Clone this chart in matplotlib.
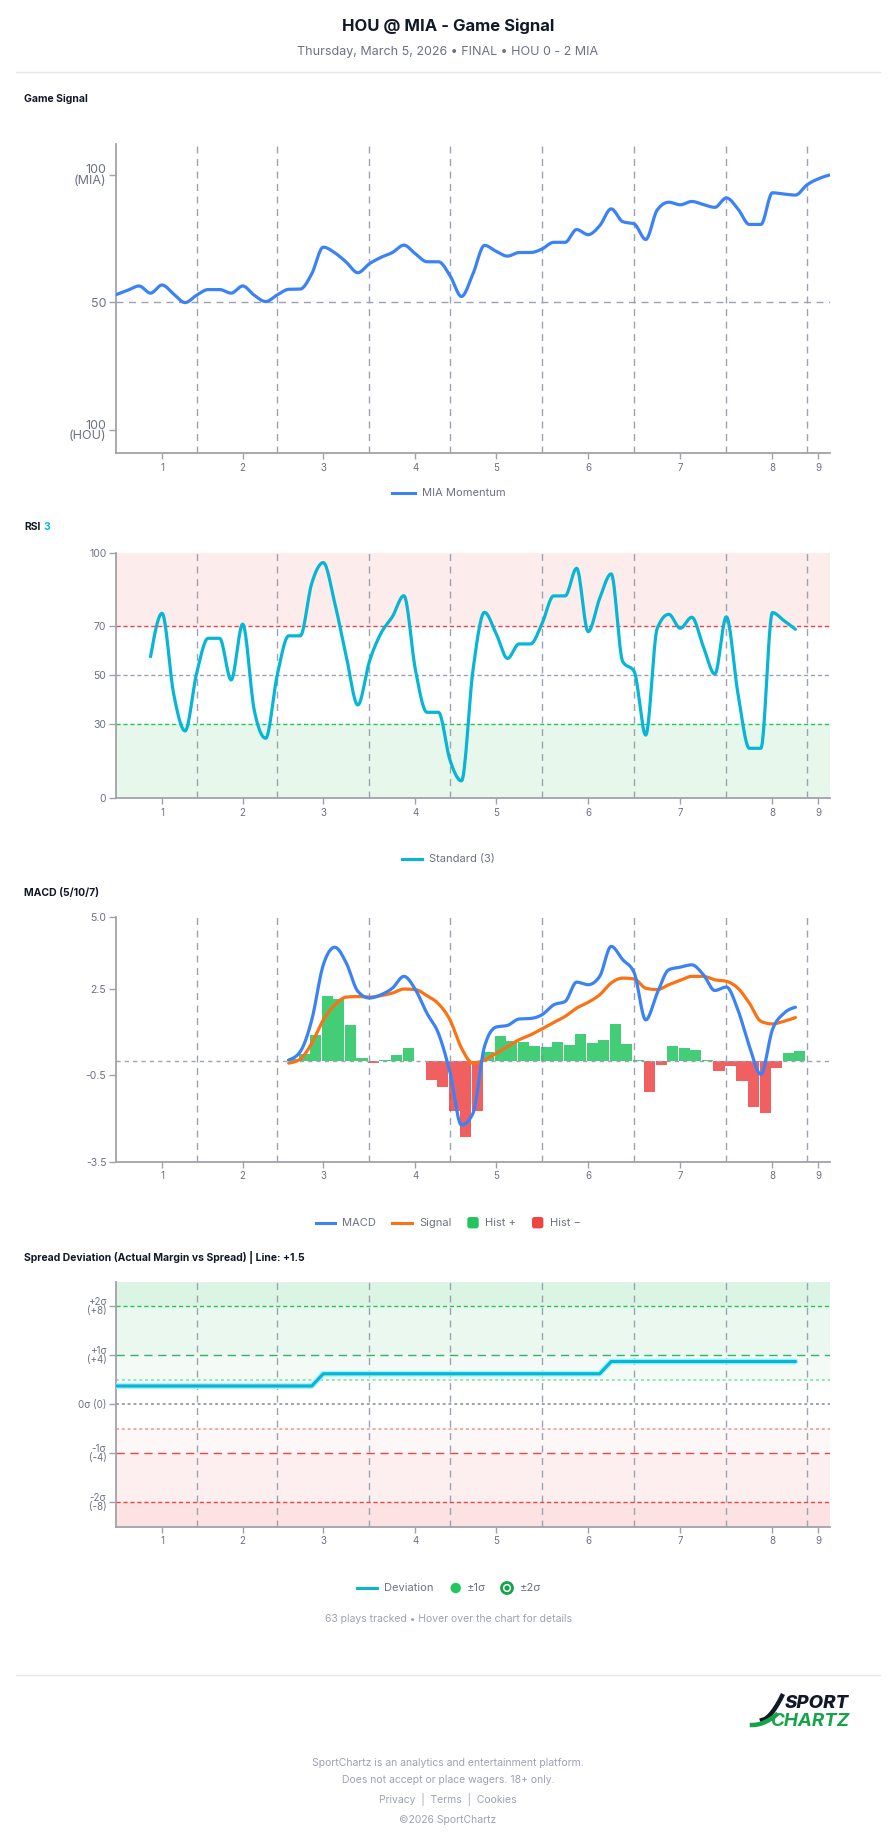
import numpy as np
import matplotlib
matplotlib.use('Agg')
import matplotlib.pyplot as plt
from matplotlib.lines import Line2D
from matplotlib.patches import FancyBboxPatch, Circle
from matplotlib.transforms import IdentityTransform

plt.rcParams['font.family'] = ['Inter', 'DejaVu Sans']

W, H = 896, 1845

# x axis = play index (63 plays), innings marked by ticks / dashed breaks
inning_ticks = [4, 11, 18, 26, 33, 41, 49, 57, 61]
inning_labels = ['1', '2', '3', '4', '5', '6', '7', '8', '9']
inning_breaks = [7, 14, 22, 29, 37, 45, 53, 60]

momentum = [53.0, 54.7, 56.4, 53.6, 56.8, 53.3, 49.9, 52.8, 55.0, 55.0,
            53.6, 56.4, 52.8, 50.3, 52.9, 55.1, 55.2, 61.2, 71.6, 69.4,
            65.7, 61.6, 65.1, 67.6, 69.5, 72.4, 69.0, 65.9, 65.9, 60.5,
            52.3, 61.2, 72.3, 70.0, 68.1, 69.5, 69.5, 70.9, 73.5, 73.5,
            78.5, 76.5, 80.0, 86.6, 81.6, 80.7, 74.6, 86.2, 89.2, 88.2,
            89.5, 88.3, 87.2, 90.9, 86.6, 80.5, 80.5, 92.9, 92.4, 92.0,
            96.0, 98.4, 99.9]

rsi_start = 3
rsi = [57.6, 75.3, 42.6, 27.3, 50.8, 65.1, 65.1, 48.1, 70.9, 35.9,
       24.3, 50.1, 66.1, 66.1, 87.6, 96.0, 79.4, 57.6, 37.9, 55.6,
       67.1, 73.9, 82.5, 52.2, 34.9, 34.9, 15.4, 6.9, 52.2, 75.7,
       67.1, 56.9, 62.8, 62.8, 71.2, 82.4, 82.4, 93.7, 67.8, 81.4,
       91.4, 55.6, 51.5, 25.6, 69.2, 74.9, 69.2, 73.7, 61.7, 50.5,
       73.9, 42.7, 20.2, 20.2, 75.6, 72.3, 68.8]

macd_start = 15
macd = [0.03, 0.32, 1.42, 3.33, 3.94, 3.39, 2.41, 2.18, 2.29, 2.52,
        2.93, 2.47, 1.65, 0.95, -0.40, -2.23, -1.82, 0.50, 1.17, 1.23,
        1.45, 1.47, 1.60, 1.94, 2.06, 2.73, 2.64, 2.93, 3.97, 3.51,
        3.05, 1.42, 2.35, 3.16, 3.25, 3.33, 2.99, 2.44, 2.56, 1.77,
        0.50, -0.47, 1.08, 1.65, 1.86]
signal = [-0.08, 0.06, 0.61, 1.42, 1.94, 2.21, 2.23, 2.21, 2.26, 2.35,
          2.49, 2.47, 2.26, 1.98, 1.42, 0.44, -0.08, 0.03, 0.26, 0.50,
          0.73, 0.90, 1.11, 1.33, 1.54, 1.83, 2.03, 2.29, 2.70, 2.87,
          2.84, 2.52, 2.47, 2.64, 2.79, 2.93, 2.93, 2.81, 2.76, 2.52,
          2.00, 1.37, 1.28, 1.37, 1.50]
hist = [0.07, 0.23, 0.89, 2.25, 2.15, 1.26, 0.11, -0.06, 0.03, 0.21,
        0.46, -0.01, -0.65, -0.92, -1.74, -2.66, -1.73, 0.31, 0.87, 0.69,
        0.67, 0.52, 0.47, 0.64, 0.54, 0.93, 0.61, 0.72, 1.27, 0.59,
        0.02, -1.08, -0.15, 0.50, 0.46, 0.39, 0.02, -0.36, -0.18, -0.69,
        -1.60, -1.81, -0.26, 0.28, 0.35]

deviation = [1.5, 1.5, 1.5, 1.5, 1.5, 1.5, 1.5, 1.5, 1.5, 1.5,
             1.5, 1.5, 1.5, 1.5, 1.5, 1.5, 1.5, 1.5, 2.5, 2.5,
             2.5, 2.5, 2.5, 2.5, 2.5, 2.5, 2.5, 2.5, 2.5, 2.5,
             2.5, 2.5, 2.5, 2.5, 2.5, 2.5, 2.5, 2.5, 2.5, 2.5,
             2.5, 2.5, 2.5, 3.5, 3.5, 3.5, 3.5, 3.5, 3.5, 3.5,
             3.5, 3.5, 3.5, 3.5, 3.5, 3.5, 3.5, 3.5, 3.5, 3.5]

BLUE = '#3b82f6'
CYAN = '#06b6d4'
ORANGE = '#f97316'
GREEN = '#22c55e'
RED = '#ef4444'
GRID = '#9ca3af'
AXIS = '#a1a1aa'
TXT = '#6b7280'


def smooth(x, y, n=16):
    """Monotone cubic (d3 monotoneX style) for drawing."""
    x = np.asarray(x, float)
    y = np.asarray(y, float)
    h = np.diff(x)
    s = np.diff(y) / h
    m = np.zeros_like(y)
    for k in range(1, len(y) - 1):
        p = (s[k - 1] * h[k] + s[k] * h[k - 1]) / (h[k - 1] + h[k])
        m[k] = (np.sign(s[k - 1]) + np.sign(s[k])) * min(abs(s[k - 1]), abs(s[k]), 0.5 * abs(p))
    m[0] = (3 * s[0] - m[1]) / 2
    m[-1] = (3 * s[-1] - m[-2]) / 2
    xs, ys = [], []
    for k in range(len(h)):
        t = np.linspace(0, 1, n, endpoint=False)
        h00 = 2 * t**3 - 3 * t**2 + 1
        h10 = t**3 - 2 * t**2 + t
        h01 = -2 * t**3 + 3 * t**2
        h11 = t**3 - t**2
        xs.append(x[k] + t * h[k])
        ys.append(h00 * y[k] + h10 * h[k] * m[k] + h01 * y[k + 1] + h11 * h[k] * m[k + 1])
    xs.append([x[-1]])
    ys.append([y[-1]])
    return np.concatenate(xs), np.concatenate(ys)


fig = plt.figure(figsize=(W / 100, H / 100), dpi=100)


def fx(x):
    return x / W


def fy(y):
    return 1 - y / H


def make_axes(top, bottom, left=116, right=830):
    ax = fig.add_axes([left / W, 1 - bottom / H, (right - left) / W, (bottom - top) / H])
    ax.set_facecolor('none')
    for side in ['top', 'right']:
        ax.spines[side].set_visible(False)
    for side in ['left', 'bottom']:
        ax.spines[side].set_color(AXIS)
        ax.spines[side].set_linewidth(1.3)
    ax.set_xlim(0, 62)
    ax.set_xticks(inning_ticks, inning_labels)
    ax.tick_params(axis='x', length=4, width=1, color=AXIS, labelsize=7, labelcolor=TXT, pad=3)
    ax.tick_params(axis='y', length=5, width=1, color=AXIS, labelcolor=TXT, pad=2)
    for b in inning_breaks:
        ax.axvline(b, color=GRID, ls=(0, (5, 4)), lw=1, zorder=1)
    return ax


def legend_line(x0, x1, y, color, label):
    fig.add_artist(Line2D([fx(x0), fx(x1)], [fy(y), fy(y)], color=color, lw=2.2,
                          transform=fig.transFigure))
    fig.text(fx(x1 + 7), fy(y), label, ha='left', va='center', fontsize=8, color=TXT)


# ---- header ----
fig.text(0.5, fy(26), 'HOU @ MIA - Game Signal', ha='center', va='center',
         fontsize=12, fontweight='bold', color='#111827')
fig.text(0.5, fy(52), 'Thursday, March 5, 2026 \u2022 FINAL \u2022 HOU 0 - 2 MIA', ha='center',
         va='center', fontsize=9, color=TXT)
fig.add_artist(Line2D([fx(16), fx(880)], [fy(72), fy(72)], color='#e5e7eb', lw=1,
                      transform=fig.transFigure))

# ---- Game Signal ----
fig.text(fx(24), fy(99), 'Game Signal', ha='left', va='center', fontsize=7.5,
         fontweight='bold', color='#111827')
ax1 = make_axes(144, 453)
ax1.set_ylim(-9, 112)
ax1.set_yticks([0, 50, 100], ['100\n(HOU)', '50', '100\n(MIA)'])
ax1.tick_params(axis='y', labelsize=9)
for lab in ax1.get_yticklabels():
    lab.set_linespacing(0.85)
ax1.axhline(50, color=GRID, ls=(0, (5, 4)), lw=1, zorder=1)
sx, sy = smooth(np.arange(len(momentum)), momentum)
ax1.plot(sx, sy, color=BLUE, lw=2.3, solid_capstyle='round', zorder=3)
legend_line(392, 415, 493, BLUE, 'MIA Momentum')

# ---- RSI ----
fig.text(fx(24), fy(527.5), 'RSI', ha='left', va='center', fontsize=7.5,
         fontweight='bold', color='#111827')
fig.text(fx(43), fy(527.5), '3', ha='left', va='center', fontsize=7.5,
         fontweight='bold', color=CYAN)
ax2 = make_axes(552.8, 797.8)
ax2.set_ylim(0, 100)
ax2.axhspan(70, 100, color='#fdecec', zorder=0)
ax2.axhspan(0, 30, color='#e8f7ec', zorder=0)
ax2.set_yticks([0, 30, 50, 70, 100])
ax2.tick_params(axis='y', labelsize=7.5)
ax2.axhline(70, color=RED, ls=(0, (3, 2)), lw=1, zorder=2)
ax2.axhline(50, color=GRID, ls=(0, (3, 2)), lw=1, zorder=2)
ax2.axhline(30, color=GREEN, ls=(0, (3, 2)), lw=1, zorder=2)
rx, ry = smooth(np.arange(rsi_start, rsi_start + len(rsi)), rsi)
ax2.plot(rx, ry, color=CYAN, lw=2.3, solid_capstyle='round', zorder=3)
legend_line(402, 422, 858.7, CYAN, 'Standard (3)')

# ---- MACD ----
fig.text(fx(24), fy(892.7), 'MACD (5/10/7)', ha='left', va='center', fontsize=7.5,
         fontweight='bold', color='#111827')
ax3 = make_axes(916.7, 1161.7)
ax3.set_ylim(-3.5, 5.0)
ax3.set_yticks([-3.5, -0.5, 2.5, 5.0], ['-3.5', '-0.5', '2.5', '5.0'])
ax3.tick_params(axis='y', labelsize=7.5)
mx = np.arange(macd_start, macd_start + len(macd))
hcol = [GREEN if v >= 0 else RED for v in hist]
ax3.bar(mx - 0.12, hist, width=0.96, align='edge', color=hcol, alpha=0.85, lw=0, zorder=2)
ax3.axhline(0, color=GRID, ls=(0, (3, 3)), lw=1, zorder=2)
qx, qy = smooth(mx, signal)
ax3.plot(qx, qy, color=ORANGE, lw=2.3, solid_capstyle='round', zorder=3)
px_, py_ = smooth(mx, macd)
ax3.plot(px_, py_, color=BLUE, lw=2.3, solid_capstyle='round', zorder=4)

ly = 1222.7
legend_line(316, 335, ly, BLUE, 'MACD')
legend_line(392, 412, ly, ORANGE, 'Signal')
for x0, col, lab in [(467.3, GREEN, 'Hist +'), (532, RED, 'Hist \u2212')]:
    fig.add_artist(FancyBboxPatch((x0, H - ly - 5.7), 11.4, 11.4,
                                  boxstyle='round,pad=0,rounding_size=2.5',
                                  fc=col, ec='none', transform=IdentityTransform()))
    fig.text(fx(x0 + 18), fy(ly), lab, ha='left', va='center', fontsize=8, color=TXT)

# ---- Spread Deviation ----
fig.text(fx(24), fy(1257), 'Spread Deviation (Actual Margin vs Spread) | Line: +1.5',
         ha='left', va='center', fontsize=7.5, fontweight='bold', color='#111827')
ax4 = make_axes(1282, 1526.7)
ax4.set_ylim(-10, 10)
bands = [(8, 10, '#dcf4e4'), (4, 8, '#eaf8ef'), (2, 4, '#f4fbf6'),
         (-4, -2, '#fef7f7'), (-8, -4, '#fdeff0'), (-10, -8, '#fde2e3')]
for lo, hi, col in bands:
    ax4.axhspan(lo, hi, color=col, lw=0, zorder=0)
ax4.set_yticks([-8, -4, 0, 4, 8],
               ['-2\u03c3\n(-8)', '-1\u03c3\n(-4)', '0\u03c3 (0)', '+1\u03c3\n(+4)', '+2\u03c3\n(+8)'])
ax4.tick_params(axis='y', labelsize=7)
for lab in ax4.get_yticklabels():
    lab.set_linespacing(0.85)
ax4.axhline(8, color=GREEN, ls=(0, (3, 2)), lw=1, zorder=2)
ax4.axhline(4, color='#2fb36a', ls=(0, (6, 4)), lw=1, zorder=2)
ax4.axhline(2, color='#86efac', ls=(0, (1.5, 1.5)), lw=1.4, zorder=2)
ax4.axhline(0, color=GRID, ls=(0, (1.5, 1.5)), lw=1.4, zorder=2)
ax4.axhline(-2, color='#fca5a5', ls=(0, (1.5, 1.5)), lw=1.4, zorder=2)
ax4.axhline(-4, color=RED, ls=(0, (6, 4)), lw=1, zorder=2)
ax4.axhline(-8, color=RED, ls=(0, (3, 2)), lw=1, zorder=2)
dx = np.arange(len(deviation))
ax4.plot(dx, deviation, color='#a5f3fc', lw=4.2, solid_capstyle='round', zorder=3)
ax4.plot(dx, deviation, color=CYAN, lw=2.3, solid_capstyle='round', zorder=4)

ly = 1588
legend_line(357, 377, ly, CYAN, 'Deviation')
fig.add_artist(Circle((455.7, H - ly), 5.2, fc=GREEN, ec='none', transform=IdentityTransform()))
fig.text(fx(467), fy(ly), '\u00b11\u03c3', ha='left', va='center', fontsize=8, color=TXT)
fig.add_artist(Circle((507, H - ly), 5.5, fc='white', ec='#16a34a', lw=2,
                      transform=IdentityTransform()))
fig.add_artist(Circle((507, H - ly), 2.6, fc='#16a34a', ec='none', transform=IdentityTransform()))
fig.text(fx(520), fy(ly), '\u00b12\u03c3', ha='left', va='center', fontsize=8, color=TXT)
fig.text(0.5, fy(1618.7), '63 plays tracked \u2022 Hover over the chart for details',
         ha='center', va='center', fontsize=7.5, color='#9ca3af')

# ---- footer ----
fig.add_artist(Line2D([fx(16), fx(880)], [fy(1675), fy(1675)], color='#e5e7eb', lw=1,
                      transform=fig.transFigure))
t = np.linspace(0, 1, 30)
fig.add_artist(Line2D(fx(762 + 20 * t**0.6), fy(1720 - 24 * t), color='#111827', lw=3.2,
                      transform=fig.transFigure))
fig.add_artist(Line2D(fx(752 + 24 * t), fy(1725 - 10 * t**2), color='#16a34a', lw=3.2,
                      transform=fig.transFigure))
fig.text(fx(785), fy(1703), 'SPORT', ha='left', va='center', fontsize=13.5,
         fontweight='heavy', style='italic', color='#111827')
fig.text(fx(771), fy(1721), 'CHARTZ', ha='left', va='center', fontsize=13.5,
         fontweight='bold', style='italic', color='#16a34a')

foot = [('SportChartz is an analytics and entertainment platform.', 1763.5),
        ('Does not accept or place wagers. 18+ only.', 1780),
        ('Privacy  |  Terms  |  Cookies', 1800),
        ('\u00a92026 SportChartz', 1820)]
for s, y in foot:
    fig.text(0.5, fy(y), s, ha='center', va='center', fontsize=7.5, color='#9ca3af')

fig.savefig('out.png', dpi=100, facecolor='white')
